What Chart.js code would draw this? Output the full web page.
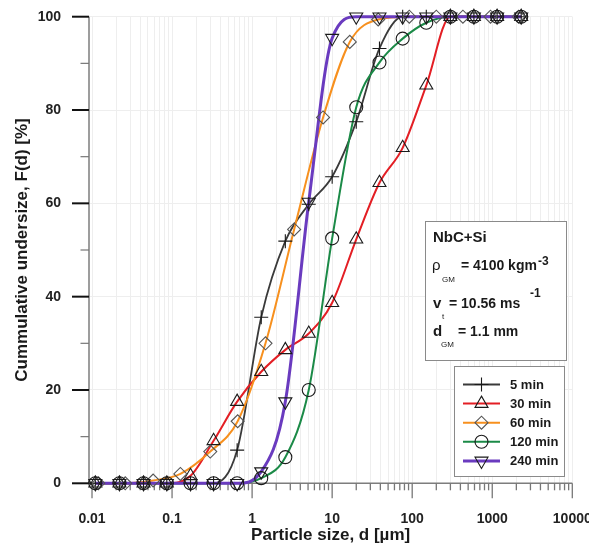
<!DOCTYPE html>
<html>
<head>
<meta charset="utf-8">
<script src="https://cdn.jsdelivr.net/npm/chart.js@4.4.1/dist/chart.umd.min.js"></script>
<style>
  html, body { margin: 0; padding: 0; background: #fff; overflow: hidden; }
  #wrap { width: 589px; height: 549px; overflow: hidden; }
</style>
</head>
<body>
<div id="wrap"><canvas id="psd" width="600" height="549"></canvas></div>
<script>
// particle size classes [µm]
const sizeBins = [0.011, 0.022, 0.044, 0.086, 0.17, 0.33, 0.65, 1.3, 2.6, 5.1, 10, 20, 39, 76, 150, 300, 590, 1150, 2300];
const sizeBins60 = [0.012, 0.026, 0.058, 0.127, 0.3, 0.66, 1.47, 3.35, 7.7, 16.6, 37.6, 92, 200, 430, 950, 2140];

// cumulative undersize F(d) [%] per milling time
const undersize5 = [0, 0, 0, 0, 0, 0, 7.1, 35.6, 51.9, 59.8, 65.7, 77.5, 93.2, 100, 100, 100, 100, 100, 100];
const undersize30 = [0, 0, 0, 0, 1.6, 9.1, 17.5, 23.9, 28.6, 32.1, 38.7, 52.3, 64.4, 71.9, 85.3, 100, 100, 100, 100];
const undersize60 = [0, 0, 0.6, 2.0, 6.8, 13.3, 30.0, 54.4, 78.4, 94.6, 99.4, 100, 100, 100, 100, 100];
const undersize120 = [0, 0, 0, 0, 0, 0, 0, 1.1, 5.6, 20.0, 52.5, 80.6, 90.2, 95.3, 98.7, 100, 100, 100, 100];
const undersize240 = [0, 0, 0, 0, 0, 0, 0, 2.5, 17.5, 60.3, 95.4, 100, 100, 100, 100, 100, 100, 100, 100];

const seriesLabels = ['5 min', '30 min', '60 min', '120 min', '240 min'];
const seriesColors = ['#3a3a3a', '#e31e24', '#f7901e', '#1b8a47', '#6a3bbf'];

const xDecades = [0.01, 0.1, 1, 10, 100, 1000, 10000];
const xTickLabels = ['0.01', '0.1', '1', '10', '100', '1000', '10000'];
const yTickLabels = ['0', '20', '40', '60', '80', '100'];

const FONT = '"Liberation Sans", Arial, sans-serif';
Chart.defaults.font.family = FONT;

const series = [
  { xs: sizeBins, ys: undersize5, style: 'cross', radius: 7, rotation: 0, width: 1.8 },
  { xs: sizeBins, ys: undersize30, style: 'triangle', radius: 7.5, rotation: 0, width: 2 },
  { xs: sizeBins60, ys: undersize60, style: 'rectRot', radius: 6.5, rotation: 0, width: 2 },
  { xs: sizeBins, ys: undersize120, style: 'circle', radius: 6.5, rotation: 0, width: 2 },
  { xs: sizeBins, ys: undersize240, style: 'triangle', radius: 7.5, rotation: 180, width: 3 }
];

const datasets = [];
series.forEach((s, i) => {
  const pts = s.xs.map((x, j) => ({ x: x, y: s.ys[j] }));
  // smooth curve
  datasets.push({
    label: seriesLabels[i],
    data: pts,
    borderColor: seriesColors[i],
    borderWidth: s.width,
    pointRadius: 0,
    cubicInterpolationMode: 'monotone',
    fill: false,
    clip: false,
    order: 10 + (4 - i)
  });
  // open symbols on top of all curves
  datasets.push({
    label: seriesLabels[i] + ' symbols',
    data: pts,
    showLine: false,
    pointStyle: s.style,
    pointRadius: s.radius,
    pointRotation: s.rotation,
    pointBorderWidth: 1.1,
    pointBorderColor: s.style === 'rectRot' ? '#555' : '#1a1a1a',
    pointBackgroundColor: 'rgba(0,0,0,0)',
    clip: false,
    order: 4 - i
  });
});

// x tick positions: 1..9 in each decade
const xTickValues = [];
for (let e = -2; e < 4; e++) {
  for (let m = 1; m < 10; m++) xTickValues.push(m * Math.pow(10, e));
}
xTickValues.push(10000);

function decadeIndex(v) {
  return xDecades.findIndex(d => Math.abs(d - v) / d < 1e-6);
}

// keep the plot area where layout.padding puts it
function noLabelPadding(scale) {
  scale.paddingTop = 0;
  scale.paddingBottom = 0;
  scale.paddingLeft = 0;
  scale.paddingRight = 0;
}

const axesPlugin = {
  id: 'axesAndBoxes',
  beforeDatasetsDraw(chart) {
    const { ctx, chartArea: a, scales: { x, y } } = chart;
    ctx.save();
    ctx.lineCap = 'butt';
    // axis lines
    ctx.strokeStyle = '#7d7d7d';
    ctx.lineWidth = 1.5;
    ctx.beginPath();
    ctx.moveTo(a.left, a.top);
    ctx.lineTo(a.left, a.bottom);
    ctx.moveTo(a.left, a.bottom);
    ctx.lineTo(a.right, a.bottom);
    ctx.stroke();
    // y ticks, minor every 10 %
    for (let v = 0; v <= 100; v += 10) {
      const py = y.getPixelForValue(v);
      const major = v % 20 === 0;
      ctx.strokeStyle = major ? '#111' : '#777';
      ctx.lineWidth = major ? 2 : 1.2;
      ctx.beginPath();
      ctx.moveTo(a.left - (major ? 17 : 8.5), py);
      ctx.lineTo(a.left, py);
      ctx.stroke();
    }
    // x ticks hang below the axis
    ctx.strokeStyle = '#777';
    ctx.lineWidth = 1.3;
    xTickValues.forEach(v => {
      const px = x.getPixelForValue(v);
      const len = decadeIndex(v) >= 0 ? 15 : 7;
      ctx.beginPath();
      ctx.moveTo(px, a.bottom);
      ctx.lineTo(px, a.bottom + len);
      ctx.stroke();
    });
    ctx.restore();
  },
  afterDatasetsDraw(chart) {
    const { ctx } = chart;
    ctx.save();

    // sample description box
    ctx.fillStyle = '#fff';
    ctx.strokeStyle = '#8a8a8a';
    ctx.lineWidth = 1;
    ctx.fillRect(425, 221, 141, 139);
    ctx.strokeRect(425.5, 221.5, 141, 139);

    ctx.fillStyle = '#1a1a1a';
    ctx.textAlign = 'left';
    ctx.textBaseline = 'alphabetic';
    ctx.font = 'bold 15px ' + FONT;
    ctx.fillText('NbC+Si', 433, 242);

    ctx.font = '15px ' + FONT;
    ctx.fillText('\u03c1', 432, 270);
    ctx.font = 'bold 14px ' + FONT;
    ctx.fillText('= 4100 kgm', 461, 270);
    ctx.font = 'bold 12px ' + FONT;
    ctx.fillText('-3', 538, 265);

    ctx.font = 'bold 15px ' + FONT;
    ctx.fillText('v', 433, 308);
    ctx.font = 'bold 14px ' + FONT;
    ctx.fillText('= 10.56 ms', 449, 308);
    ctx.font = 'bold 12px ' + FONT;
    ctx.fillText('-1', 530, 297);

    ctx.font = 'bold 15px ' + FONT;
    ctx.fillText('d', 433, 336);
    ctx.font = 'bold 14px ' + FONT;
    ctx.fillText('= 1.1 mm', 458, 336);

    ctx.font = '8px ' + FONT;
    ctx.textBaseline = 'middle';
    ctx.fillText('GM', 442, 280);
    ctx.fillText('t', 442, 317);
    ctx.fillText('GM', 441, 345);

    // legend
    ctx.fillStyle = '#fff';
    ctx.fillRect(454, 366, 110, 110);
    ctx.strokeStyle = '#8a8a8a';
    ctx.strokeRect(454.5, 366.5, 110, 110);

    series.forEach((s, i) => {
      const cy = 384.5 + i * 19.1;
      ctx.strokeStyle = seriesColors[i];
      ctx.lineWidth = s.width;
      ctx.beginPath();
      ctx.moveTo(463, cy);
      ctx.lineTo(500, cy);
      ctx.stroke();

      ctx.strokeStyle = s.style === 'rectRot' ? '#555' : '#1a1a1a';
      ctx.fillStyle = 'rgba(0,0,0,0)';
      ctx.lineWidth = 1.1;
      Chart.helpers.drawPoint(ctx, {
        pointStyle: s.style,
        radius: s.radius,
        rotation: s.rotation,
        borderWidth: 1.1
      }, 481.5, cy);

      ctx.fillStyle = '#1a1a1a';
      ctx.font = 'bold 13px ' + FONT;
      ctx.textBaseline = 'middle';
      ctx.fillText(seriesLabels[i], 510, cy + 0.5);
    });

    ctx.restore();
  }
};

new Chart(document.getElementById('psd'), {
  type: 'line',
  data: { datasets: datasets },
  options: {
    responsive: false,
    animation: false,
    devicePixelRatio: 1,
    layout: { padding: { top: 16.7, right: 27.7, bottom: 0, left: 0 } },
    plugins: {
      legend: { display: false },
      tooltip: { enabled: false }
    },
    scales: {
      x: {
        type: 'logarithmic',
        min: 0.00917,
        max: 10000,
        afterBuildTicks: scale => {
          scale.ticks = xTickValues.map(v => ({ value: v }));
        },
        afterFit: scale => {
          scale.height = 549 - 483.3;
          noLabelPadding(scale);
        },
        grid: { color: '#eeeeee', lineWidth: 1, drawTicks: false },
        border: { display: false },
        ticks: {
          autoSkip: false,
          maxRotation: 0,
          padding: 27,
          color: '#222',
          font: { size: 14, weight: 'bold' },
          callback: v => {
            const k = decadeIndex(v);
            return k >= 0 ? xTickLabels[k] : '';
          }
        },
        title: {
          display: true,
          text: 'Particle size, d [\u00b5m]',
          color: '#1a1a1a',
          font: { size: 17, weight: 'bold' },
          padding: { top: 0, bottom: 3 }
        }
      },
      y: {
        type: 'linear',
        min: 0,
        max: 100,
        afterBuildTicks: scale => {
          scale.ticks = yTickLabels.map(t => ({ value: Number(t) }));
        },
        afterFit: scale => {
          scale.width = 89;
          noLabelPadding(scale);
        },
        grid: { color: '#eeeeee', lineWidth: 1, drawTicks: false },
        border: { display: false },
        ticks: {
          padding: 28,
          color: '#222',
          font: { size: 14, weight: 'bold' },
          callback: (v, i) => yTickLabels[i]
        },
        title: {
          display: true,
          text: 'Cummulative undersize, F(d) [%]',
          color: '#1a1a1a',
          font: { size: 17, weight: 'bold' },
          padding: { top: 12, bottom: 0 }
        }
      }
    }
  },
  plugins: [axesPlugin]
});
</script>
</body>
</html>
